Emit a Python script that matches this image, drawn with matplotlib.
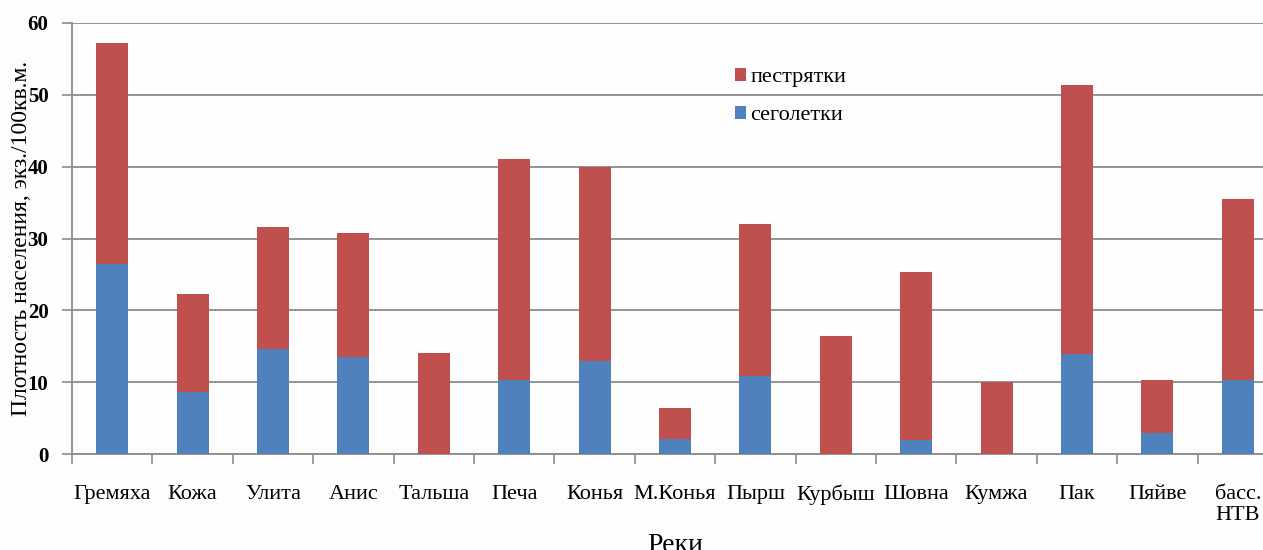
import matplotlib
matplotlib.use("Agg")
import matplotlib.pyplot as plt
import numpy as np

rivers = ["Гремяха", "Кожа", "Улита", "Анис", "Тальша", "Печа", "Конья", "М.Конья",
          "Пырш", "Курбыш", "Шовна", "Кумжа", "Пак", "Пяйве", "басс.\nНТВ"]
segoletki = [26.4, 8.7, 14.6, 13.5, 0.0, 10.3, 12.9, 2.1, 10.9, 0.0, 2.0, 0.0, 13.9, 2.9, 10.3]
pestryatki = [30.8, 13.6, 17.0, 17.3, 14.1, 30.7, 27.1, 4.3, 21.1, 16.4, 23.3, 10.0, 37.5, 7.4, 25.2]
yticks = [0, 10, 20, 30, 40, 50, 60]

RED = "#C0504D"
BLUE = "#4F81BD"
GRID = "#8C8C8C"

plt.rcParams['font.family'] = ['Liberation Serif', 'DejaVu Serif']

W, H = 1263, 550
fig = plt.figure(figsize=(W / 100, H / 100), dpi=100)
fig.patch.set_facecolor("#FDFDFD")

left, right, top, bottom = 72, 1278, 23, 454
ax = fig.add_axes([left / W, 1 - bottom / H, (right - left) / W, (bottom - top) / H])
ax.set_facecolor("#FDFDFD")

x = np.arange(len(rivers))
bw = 0.4
ax.bar(x, segoletki, width=bw, color=BLUE, label="сеголетки", zorder=3)
ax.bar(x, pestryatki, width=bw, bottom=segoletki, color=RED, label="пестрятки", zorder=3)

ax.set_xlim(-0.5, len(rivers) - 0.5)
ax.set_ylim(0, 60)
ax.set_yticks(yticks)
ax.set_yticklabels([str(v) for v in yticks], fontweight="bold", fontsize=15)
ax.yaxis.grid(True, color=GRID, linewidth=1.3, zorder=0)
ax.set_axisbelow(True)

ax.set_xticks(np.arange(-0.5, len(rivers), 1.0))
ax.set_xticklabels([])
ax.set_xticks(x, minor=True)
ax.set_xticklabels(rivers, minor=True, fontsize=16, va="top", linespacing=1.2)
ax.tick_params(axis="x", which="major", length=7, color=GRID, width=1.2, direction="out")
ax.tick_params(axis="x", which="minor", length=0, pad=22)
ax.tick_params(axis="y", length=7, color=GRID, width=1.2, direction="out", pad=10)

for s in ["top", "right"]:
    ax.spines[s].set_visible(False)
for s in ["left", "bottom"]:
    ax.spines[s].set_color(GRID)
    ax.spines[s].set_linewidth(1.3)

ax.set_ylabel("Плотность населения, экз./100кв.м.", fontsize=17, labelpad=0)
ax.yaxis.set_label_coords(-40 / (right - left), 0.5)
ax.set_xlabel("Реки", fontsize=20, va="top")
ax.xaxis.set_label_coords(0.5, -(533 - bottom) / (bottom - top), transform=ax.transAxes)

handles, labels = ax.get_legend_handles_labels()
leg = fig.legend(handles[::-1], labels[::-1], loc="upper left",
                 bbox_to_anchor=(735 / W, 1 - 68 / H), frameon=False,
                 fontsize=16, handlelength=0.5, handleheight=0.5,
                 handletextpad=0.2, labelspacing=0.85, borderpad=0, borderaxespad=0)

fig.savefig("out.png", dpi=100, facecolor=fig.get_facecolor())
